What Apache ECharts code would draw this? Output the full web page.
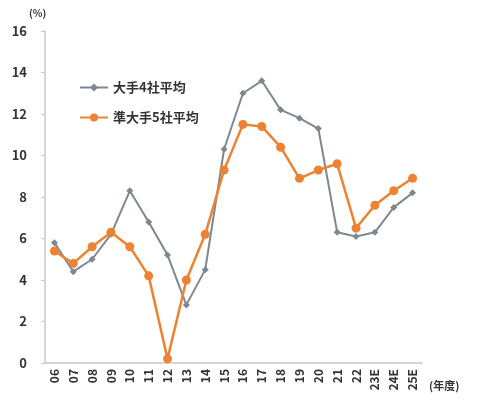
<!DOCTYPE html>
<html><head><meta charset="utf-8">
<script src="https://cdn.jsdelivr.net/npm/echarts@6/dist/echarts.min.js"></script>
<style>html,body{margin:0;padding:0;background:#fff}#c{width:477px;height:405px}</style>
</head><body><div id="c"></div>
<script>
const categories = ['06','07','08','09','10','11','12','13','14','15','16','17','18','19','20','21','22','23E','24E','25E'];
const major4 = [5.8,4.4,5.0,6.2,8.3,6.8,5.2,2.8,4.5,10.3,13.0,13.6,12.2,11.8,11.3,6.3,6.1,6.3,7.5,8.2];
const semi5 = [5.4,4.8,5.6,6.3,5.6,4.2,0.2,4.0,6.2,9.3,11.5,11.4,10.4,8.9,9.3,9.6,6.5,7.6,8.3,8.9];
const seriesNames = ['大手4社平均','準大手5社平均'];
const yTicks = [0,2,4,6,8,10,12,14,16];

const chart = echarts.init(document.getElementById('c'));
const font = '"Noto Sans CJK JP", "Noto Sans", sans-serif';
chart.setOption({
  animation:false,
  textStyle:{fontFamily:font},
  grid:{left:45,right:55,top:31,bottom:42},
  legend:{
    orient:'vertical', left:74, top:76, itemGap:17, itemWidth:28, itemHeight:10,
    textStyle:{fontFamily:font,fontSize:13,fontWeight:'bold',color:'#333'},
    data:seriesNames
  },
  graphic:[
    {type:'text',left:29,top:8,style:{text:'(%)',fontFamily:font,fontSize:10,fontWeight:'bold',fill:'#333'}},
    {type:'text',left:429,top:380,style:{text:'(年度)',fontFamily:font,fontSize:11,fontWeight:'bold',fill:'#333'}}
  ],
  xAxis:{
    type:'category', data:categories, boundaryGap:true,
    axisLine:{lineStyle:{color:'#c8c8c8',width:1.5}},
    axisTick:{show:false},
    axisLabel:{rotate:90,interval:0,margin:6,fontFamily:font,fontSize:12,fontWeight:'bold',color:'#333'}
  },
  yAxis:{
    type:'value', min:yTicks[0], max:yTicks[yTicks.length-1], interval:2,
    axisLine:{show:true,lineStyle:{color:'#c8c8c8',width:1.5}},
    axisTick:{show:true,length:4,lineStyle:{color:'#c8c8c8'}},
    splitLine:{show:false},
    axisLabel:{margin:18,fontFamily:font,fontSize:13,fontWeight:'bold',color:'#333'}
  },
  series:[
    {name:seriesNames[0],type:'line',data:major4,symbol:'diamond',symbolSize:7,
     lineStyle:{color:'#7d8893',width:2},itemStyle:{color:'#7d8893'},z:2},
    {name:seriesNames[1],type:'line',data:semi5,symbol:'circle',symbolSize:9,
     lineStyle:{color:'#ee8233',width:2.5},itemStyle:{color:'#ee8233'},z:3}
  ]
});
</script></body></html>
